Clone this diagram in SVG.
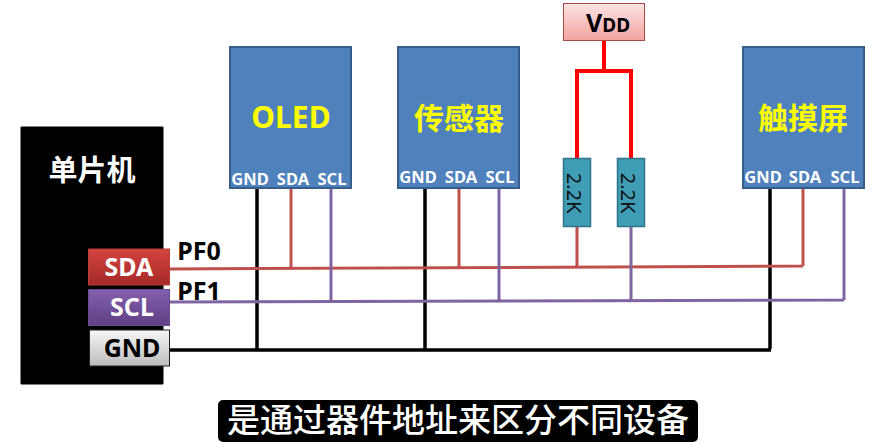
<svg xmlns="http://www.w3.org/2000/svg" width="881" height="442" viewBox="0 0 881 442">
<defs>
<linearGradient id="gr" x1="0" y1="0" x2="0" y2="1"><stop offset="0" stop-color="#d4433f"/><stop offset="1" stop-color="#a52a28"/></linearGradient>
<linearGradient id="gp" x1="0" y1="0" x2="0" y2="1"><stop offset="0" stop-color="#8560ad"/><stop offset="1" stop-color="#5f3f85"/></linearGradient>
<linearGradient id="gw" x1="0" y1="0" x2="0" y2="1"><stop offset="0" stop-color="#f6f6f6"/><stop offset="1" stop-color="#bcbcbc"/></linearGradient>
<linearGradient id="gv" x1="0" y1="0" x2="0" y2="1"><stop offset="0" stop-color="#fde4e3"/><stop offset="1" stop-color="#f2a3a1"/></linearGradient>
</defs>
<style>
text{font-family:"Noto Sans","Noto Sans CJK SC",sans-serif;font-weight:700;text-anchor:middle}
.cjk{font-family:"Noto Sans CJK SC",sans-serif}
.mod{fill:#4f81bd;stroke:#385d8a;stroke-width:2}
.pin{font-size:16.500px;fill:#fff}
.title{font-size:30px;fill:#ff0}
.port{font-size:25px}
.res{fill:#3f9db5;stroke:#2f7487;stroke-width:1.500}
.rt{font-size:20px;font-weight:400;fill:#111}
.w{fill:none;stroke-linejoin:miter}
.blk{stroke:#000;stroke-width:3.500}
.red{stroke:#c0504d;stroke-width:3}
.pur{stroke:#8064a2;stroke-width:3}
.vdd{stroke:#f00;stroke-width:4}
</style>
<rect width="881" height="442" fill="#fff"/>
<g id="connectors" class="w">
<path class="blk" d="M257 188V349M425 188V349M770 188V349M170 350H771"/>
<path class="red" d="M291 188V268M459 188V268M577 226V268M803 188V266M170 269L803 266"/>
<path class="pur" d="M331 188V302M499 188V302M631 226V301M844 188V300M170 302L844 300"/>
<path class="vdd" d="M604 40V71M577 160V71H631V160"/>
</g>
<g id="mcu">
<rect x="20.500" y="126.500" width="143" height="258" rx="1" fill="#000"/>
<text class="cjk" x="92" y="181" font-size="29" fill="#fff">单片机</text>
</g>
<g id="port-sda"><rect x="88.500" y="249" width="81" height="36" fill="url(#gr)" stroke="#b5403c"/><text class="port" x="129" y="275.500" fill="#fff">SDA</text></g>
<g id="port-scl"><rect x="88.500" y="289.500" width="81" height="36" fill="url(#gp)" stroke="#6a4c91"/><text class="port" x="132" y="316" fill="#fff">SCL</text></g>
<g id="port-gnd"><rect x="89.500" y="330" width="80" height="36" fill="url(#gw)" stroke="#222"/><text class="port" x="132" y="356.500" fill="#000">GND</text></g>
<text x="199" y="260" font-size="25" fill="#000">PF0</text>
<text x="199" y="300" font-size="25" fill="#000">PF1</text>
<g id="oled">
<rect class="mod" x="230" y="47" width="121" height="141"/>
<text class="title" x="291" y="128">OLED</text>
<text class="pin" x="250" y="185">GND</text><text class="pin" x="293" y="185">SDA</text><text class="pin" x="332" y="185">SCL</text>
</g>
<g id="sensor">
<rect class="mod" x="398" y="47" width="121" height="141"/>
<text class="title cjk" x="459" y="129">传感器</text>
<text class="pin" x="418" y="183">GND</text><text class="pin" x="461" y="183">SDA</text><text class="pin" x="500" y="183">SCL</text>
</g>
<g id="touch">
<rect class="mod" x="743" y="47" width="121" height="141"/>
<text class="title cjk" x="803" y="129">触摸屏</text>
<text class="pin" x="763" y="183">GND</text><text class="pin" x="805" y="183">SDA</text><text class="pin" x="845" y="183">SCL</text>
</g>
<g id="vdd">
<rect x="563.500" y="3.500" width="81" height="37" fill="url(#gv)" stroke="#a94a48"/>
<text x="608" y="32" font-size="25" fill="#000">V<tspan font-size="19">DD</tspan></text>
</g>
<g id="r1">
<rect class="res" x="563.500" y="158.500" width="27" height="68"/>
<text class="rt" transform="translate(567 193) rotate(90)" y="0">2.2K</text>
</g>
<g id="r2">
<rect class="res" x="617.500" y="158.500" width="27" height="68"/>
<text class="rt" transform="translate(621 193) rotate(90)" y="0">2.2K</text>
</g>
<g id="caption">
<rect x="218" y="400" width="480" height="42" rx="5" fill="#000"/>
<text x="458" y="431.500" font-size="33" fill="#fff" class="cjk" style="font-weight:500">是通过器件地址来区分不同设备</text>
</g>
</svg>
